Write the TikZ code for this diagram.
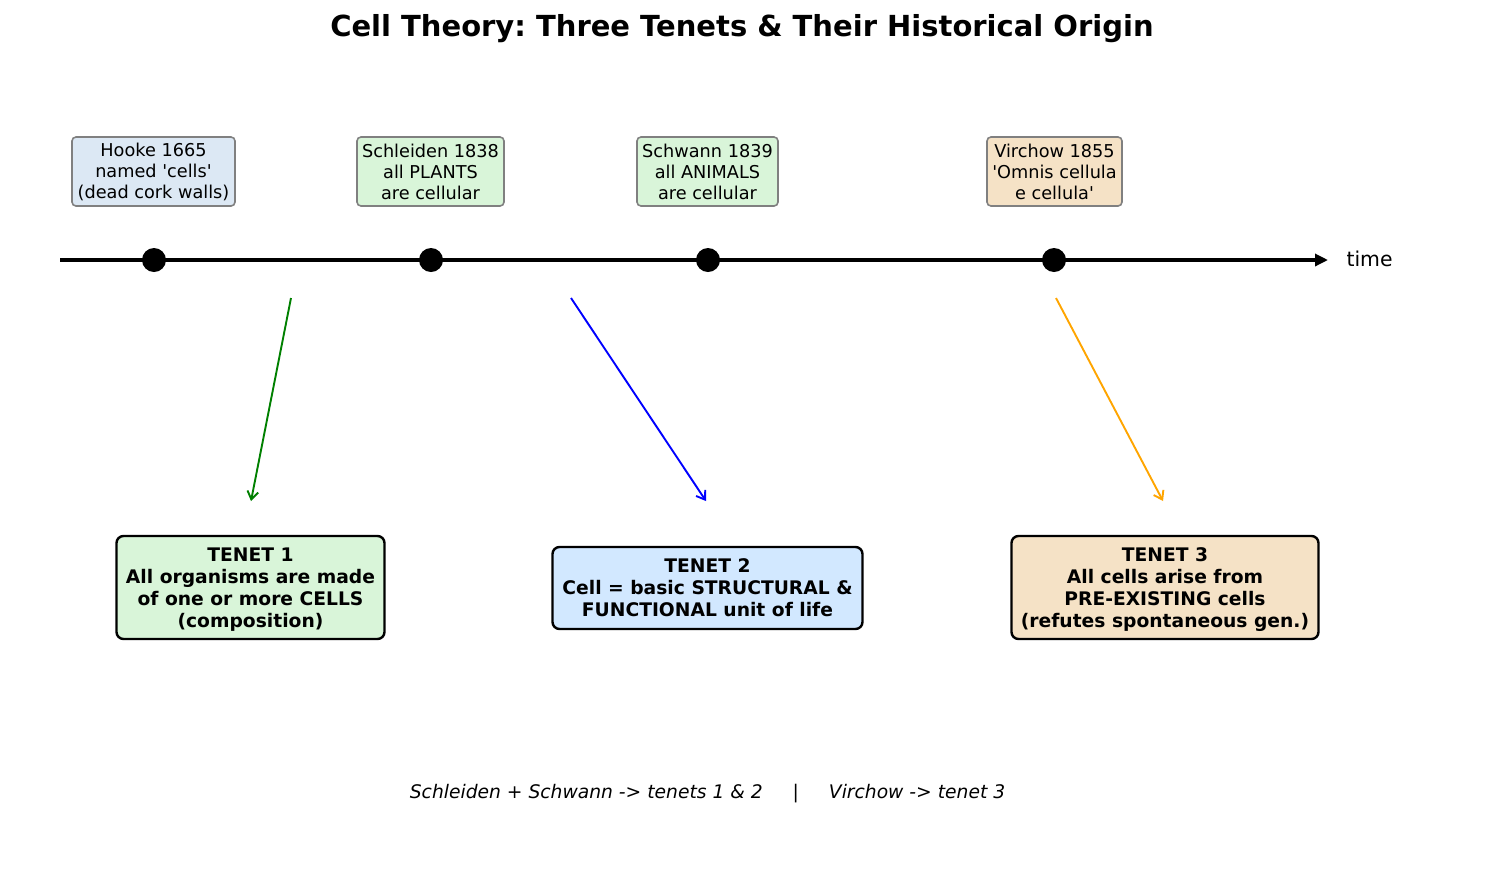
\documentclass[tikz,border=0pt]{standalone}
\usepackage{fontspec}
\setmainfont{DejaVu Sans}
\usetikzlibrary{arrows.meta}
\frenchspacing

\definecolor{hookefill}{HTML}{DCE8F4}
\definecolor{greenfill}{HTML}{D9F5D9}
\definecolor{wheatfill}{HTML}{F5E2C6}
\definecolor{bluefill}{HTML}{D2E8FF}
\definecolor{boxgray}{HTML}{808080}
\definecolor{arrgreen}{HTML}{008000}
\definecolor{arrblue}{HTML}{0000FF}
\definecolor{arrorange}{HTML}{FFA500}

\newcommand{\sq}{\textquotesingle}

\tikzset{
  eventbox/.style={draw=boxgray, line width=1.6pt, rounded corners=4pt,
    align=center, inner sep=0pt,
    font=\fontsize{17.7pt}{21pt}\selectfont},
  tenetbox/.style={draw=black, line width=2.4pt, rounded corners=7pt,
    align=center, inner sep=0pt, text depth=0pt,
    font=\fontsize{18.7pt}{22pt}\selectfont\bfseries},
  eventdot/.style={circle, fill=black, minimum size=24pt, inner sep=0pt},
  linkarrow/.style={line width=1.9pt, -{Straight Barb[length=8pt,width=11pt,line width=1.9pt]}},
}

\begin{document}
\begin{tikzpicture}[x=1pt, y=-1pt]
\useasboundingbox (0,0) rectangle (1485,884);

% title
\node[font=\fontsize{29pt}{34pt}\selectfont\bfseries] (title) at (742,29) {Cell Theory: Three Tenets \& Their Historical Origin};

% time axis
\coordinate (axstart) at (60,260);
\coordinate (axend) at (1328,260);
\draw[line width=3.2pt, -{Triangle[length=13pt,width=12pt]}] (axstart) -- (axend);
\node[anchor=west, font=\fontsize{20.4pt}{24pt}\selectfont] (timelbl) at (1343,259) {time};

% events on the axis
\node[eventdot] (d1) at (154,260) {};
\node[eventdot] (d2) at (431,260) {};
\node[eventdot] (d3) at (708,260) {};
\node[eventdot] (d4) at (1054,260) {};

% event labels
\node[eventbox, fill=hookefill, minimum width=163pt, minimum height=69pt] (hooke) at (153.5,171.5)
  {Hooke 1665\\named \sq cells\sq\\(dead cork walls)};
\node[eventbox, fill=greenfill, minimum width=147pt, minimum height=69pt] (schleiden) at (430.5,171.5)
  {Schleiden 1838\\all PLANTS\\are cellular};
\node[eventbox, fill=greenfill, minimum width=141pt, minimum height=69pt] (schwann) at (707.5,171.5)
  {Schwann 1839\\all ANIMALS\\are cellular};
\node[eventbox, fill=wheatfill, minimum width=135pt, minimum height=69pt] (virchow) at (1054.5,171.5)
  {Virchow 1855\\\sq Omnis cellula\\e cellula\sq};

% the three tenets
\node[tenetbox, fill=greenfill, minimum width=268pt, minimum height=103pt] (t1) at (250.5,587.5)
  {TENET 1\\All organisms are made\\of one or more CELLS\\(composition)};
\node[tenetbox, fill=bluefill, minimum width=310pt, minimum height=82pt] (t2) at (707.5,588)
  {TENET 2\\Cell = basic STRUCTURAL \&\\FUNCTIONAL unit of life};
\node[tenetbox, fill=wheatfill, minimum width=307pt, minimum height=103pt] (t3) at (1165,587.5)
  {TENET 3\\All cells arise from\\PRE-EXISTING cells\\(refutes spontaneous gen.)};

% links from the timeline to the tenets
\coordinate (a1s) at (291,298);
\coordinate (a1e) at (251,501);
\coordinate (a2s) at (571,298);
\coordinate (a2e) at (706,501);
\coordinate (a3s) at (1056,298);
\coordinate (a3e) at (1163,501);
\draw[linkarrow, arrgreen] (a1s) -- (a1e);
\draw[linkarrow, arrblue] (a2s) -- (a2e);
\draw[linkarrow, arrorange] (a3s) -- (a3e);

% footer
\node[font=\fontsize{18.7pt}{22pt}\selectfont\itshape] (footer) at (707.5,794)
  {Schleiden + Schwann -> tenets 1 \& 2\hspace{1.6em}|\hspace{1.6em}Virchow -> tenet 3};
\end{tikzpicture}
\end{document}
